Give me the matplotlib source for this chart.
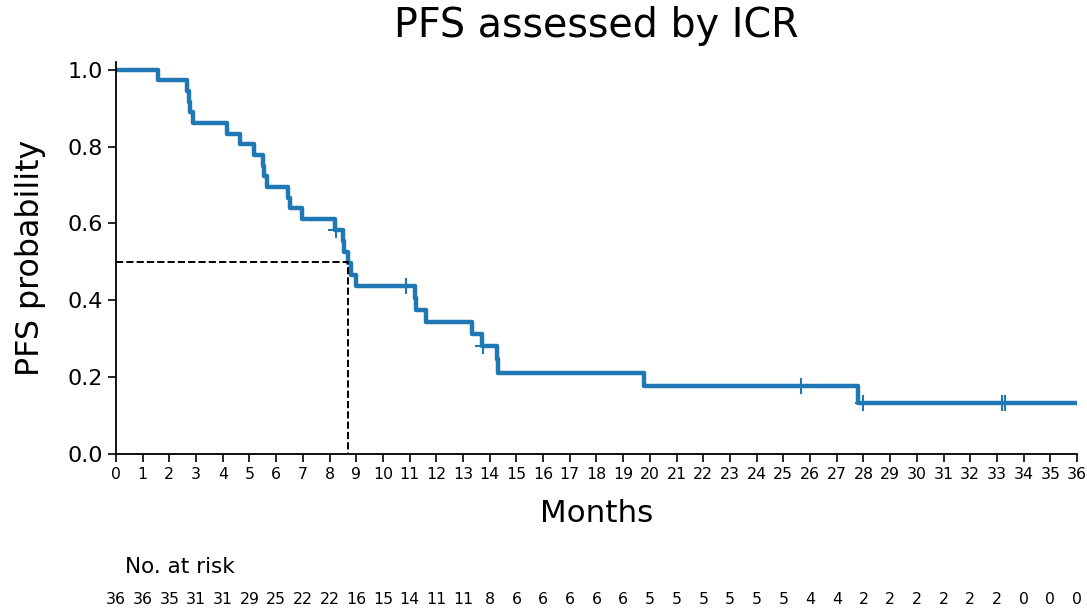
import numpy as np
import matplotlib.pyplot as plt

# progression / death times (months)
event_times = [1.56, 2.65, 2.72, 2.78, 2.87, 4.17, 4.64, 5.17, 5.49, 5.55, 5.64,
               6.45, 6.52, 6.98, 8.20, 8.51, 8.55, 8.70, 8.79, 9.00,
               11.20, 11.25, 11.61, 13.32, 13.72, 14.26, 14.31, 19.78, 27.80]
# censored patients (tick marks)
censor_times = [8.25, 10.86, 13.75, 25.67, 27.99, 33.20, 33.31]

months = list(range(0, 37))
at_risk = [36, 36, 35, 31, 31, 29, 25, 22, 22, 16, 15, 14, 11, 11, 8,
           6, 6, 6, 6, 6, 5, 5, 5, 5, 5, 5, 4, 4, 2, 2, 2, 2, 2, 2, 0, 0, 0]
median_pfs = 8.70

# Kaplan-Meier estimate
times = np.array(event_times + censor_times)
observed = np.array([1] * len(event_times) + [0] * len(censor_times))
order = np.argsort(times, kind="stable")
times, observed = times[order], observed[order]
n = len(times)
surv = 1.0
xs, ys = [0.0], [1.0]
cx, cy = [], []
for i, (t, e) in enumerate(zip(times, observed)):
    n_risk = n - i
    if e:
        surv *= (n_risk - 1) / n_risk
        xs.append(t)
        ys.append(surv)
    else:
        cx.append(t)
        cy.append(surv)
xs.append(months[-1])
ys.append(surv)

fig = plt.figure(figsize=(10.87, 6.08), dpi=100)
ax = fig.add_axes([0.1067, 0.2533, 0.8841, 0.6447])

col = "#1f77b4"
ax.step(xs, ys, where="post", color=col, lw=3.2)
ax.plot(cx, cy, "+", color=col, ms=11, mew=1.5)
ax.plot([0, median_pfs, median_pfs], [0.5, 0.5, 0], "k--", lw=1.4)

ax.set_xlim(0, 36)
ax.set_ylim(0, 1.02)
ax.set_xticks(months)
ax.set_xticklabels([str(m) for m in months], fontsize=11.3)
ax.set_yticks([0, 0.2, 0.4, 0.6, 0.8, 1.0])
ax.set_yticklabels(["0.0", "0.2", "0.4", "0.6", "0.8", "1.0"], fontsize=16)
ax.tick_params(axis="both", length=6, width=1.2)
for s in ["top", "right"]:
    ax.spines[s].set_visible(False)
for s in ["left", "bottom"]:
    ax.spines[s].set_linewidth(1.3)

ax.set_title("PFS assessed by ICR", fontsize=28.5, pad=18)
ax.set_xlabel("Months", fontsize=22.3, labelpad=12)
ax.set_ylabel("PFS probability", fontsize=22.8, labelpad=15)

# number at risk table
fig.text(125 / 1087, 1 - 567 / 608, "No. at risk", fontsize=15.5, va="center", ha="left")
trans = ax.get_xaxis_transform()
for m, r in zip(months, at_risk):
    ax.text(m, (597 - 454) / -(454 - 62) * 1.02, str(r), fontsize=11.3,
            ha="center", va="center", transform=trans, clip_on=False)

fig.savefig("out.png", dpi=100)
